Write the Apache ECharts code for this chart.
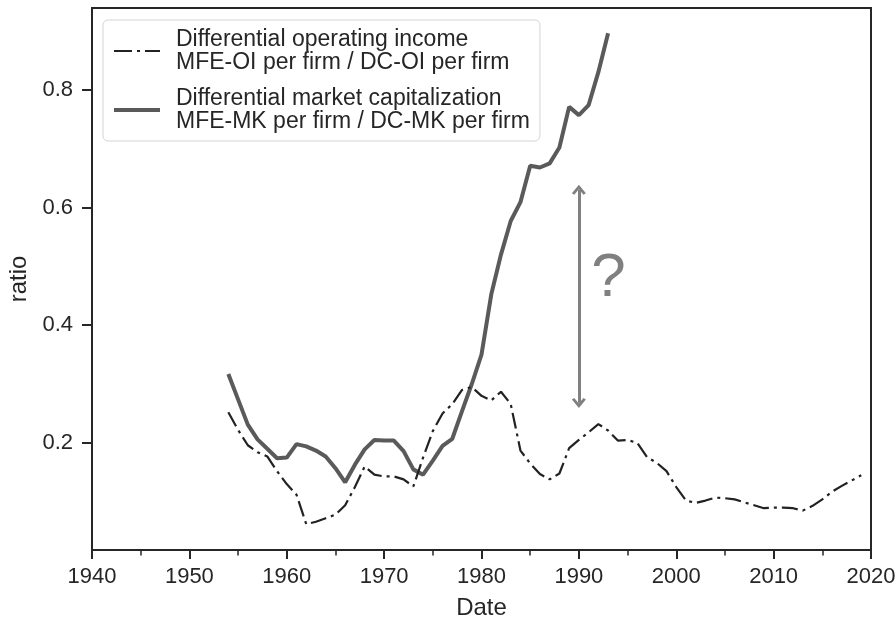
<!DOCTYPE html>
<html>
<head>
<meta charset="utf-8">
<script src="https://cdn.jsdelivr.net/npm/echarts@6/dist/echarts.min.js"></script>
<style>
  html, body { margin: 0; padding: 0; background: #fff; }
  #chart { width: 896px; height: 618px; }
</style>
</head>
<body>
<div id="chart"></div>
<script>
// data
var oiYears = [1954, 1955, 1956, 1957, 1958, 1959, 1960, 1961, 1962, 1963,
  1964, 1965, 1966, 1967, 1968, 1969, 1970, 1971, 1972, 1973,
  1974, 1975, 1976, 1977, 1978, 1979, 1980, 1981, 1982, 1983,
  1984, 1985, 1986, 1987, 1988, 1989, 1990, 1991, 1992, 1993,
  1994, 1995, 1996, 1997, 1998, 1999, 2000, 2001, 2002, 2003,
  2004, 2005, 2006, 2007, 2008, 2009, 2010, 2011, 2012, 2013,
  2014, 2015, 2016, 2017, 2018, 2019];
var oiValues = [0.252, 0.222, 0.196, 0.184, 0.177, 0.152, 0.130, 0.112, 0.062, 0.066,
  0.072, 0.078, 0.094, 0.125, 0.160, 0.146, 0.143, 0.143, 0.138, 0.126,
  0.175, 0.220, 0.250, 0.266, 0.290, 0.295, 0.280, 0.272, 0.287, 0.266,
  0.187, 0.165, 0.147, 0.138, 0.148, 0.191, 0.205, 0.218, 0.232, 0.221,
  0.204, 0.205, 0.200, 0.176, 0.166, 0.152, 0.125, 0.102, 0.098, 0.102,
  0.107, 0.106, 0.104, 0.099, 0.094, 0.089, 0.090, 0.090, 0.089, 0.085,
  0.093, 0.104, 0.117, 0.127, 0.136, 0.145];

var mkYears = [1954, 1955, 1956, 1957, 1958, 1959, 1960, 1961, 1962, 1963,
  1964, 1965, 1966, 1967, 1968, 1969, 1970, 1971, 1972, 1973,
  1974, 1975, 1976, 1977, 1978, 1979, 1980, 1981, 1982, 1983,
  1984, 1985, 1986, 1987, 1988, 1989, 1990, 1991, 1992, 1993];
var mkValues = [0.317, 0.274, 0.231, 0.206, 0.190, 0.174, 0.175, 0.198, 0.194, 0.187,
  0.177, 0.157, 0.133, 0.163, 0.189, 0.205, 0.204, 0.204, 0.186, 0.155,
  0.146, 0.170, 0.195, 0.207, 0.254, 0.300, 0.350, 0.452, 0.520, 0.577,
  0.609, 0.671, 0.668, 0.675, 0.702, 0.771, 0.757, 0.774, 0.830, 0.896];

var yTicks = [0.2, 0.4, 0.6, 0.8];
var oiName = 'Differential operating income\nMFE-OI per firm / DC-OI per firm';
var mkName = 'Differential market capitalization\nMFE-MK per firm / DC-MK per firm';

// the "?" gap arrow at 1990
var arrowYear = 1990;
var arrowFrom = 0.268;
var arrowTo = 0.630;

function pairs(xs, ys) {
  return xs.map(function (x, i) { return [x, ys[i]]; });
}

var font = "'Liberation Sans', Arial, sans-serif";
var ink = '#262626';
var chevron = 'path://M0,9 L7,0 L14,9 L11.6,10.6 L7,4.6 L2.4,10.6 Z';

var myChart = echarts.init(document.getElementById('chart'));

var option = {
  backgroundColor: '#fff',
  animation: false,
  textStyle: { fontFamily: font },
  grid: {
    left: 92, right: 25, top: 8, bottom: 68,
    containLabel: false,
    outerBoundsMode: 'none',
    show: true, borderColor: ink, borderWidth: 2, backgroundColor: 'transparent'
  },
  legend: {
    orient: 'vertical',
    left: 103, top: 20,
    padding: [8, 10, 8, 9],
    itemGap: 13,
    itemWidth: 46,
    itemHeight: 14,
    backgroundColor: '#fff',
    borderColor: '#d4d4d4',
    borderWidth: 1,
    borderRadius: 5,
    textStyle: { fontFamily: font, fontSize: 23, lineHeight: 23, color: ink, padding: [0, 0, 0, 11] },
    data: [
      { name: oiName, itemStyle: { opacity: 0 }, lineStyle: { width: 2.2, type: [18, 5, 3, 5], color: '#222' } },
      { name: mkName, itemStyle: { opacity: 0 }, lineStyle: { width: 4, type: 'solid', color: '#5a5a5a' } }
    ]
  },
  xAxis: {
    type: 'value',
    min: 1940, max: 2020, interval: 10,
    name: 'Date', nameLocation: 'middle', nameGap: 46,
    nameTextStyle: { fontSize: 24, color: ink, fontFamily: font },
    axisLine: { show: false },
    axisTick: { show: true, inside: false, length: 9, lineStyle: { color: ink, width: 2 } },
    minorTick: { show: true, splitNumber: 2, length: 5.5, lineStyle: { color: ink, width: 1.5 } },
    axisLabel: { fontSize: 22, color: ink, margin: 16, formatter: function (v) { return String(v); } },
    splitLine: { show: false }
  },
  yAxis: {
    type: 'value',
    min: 0.018, max: 0.939,
    name: 'ratio', nameLocation: 'middle', nameGap: 54, nameRotate: 90,
    nameTextStyle: { fontSize: 24, color: ink, fontFamily: font },
    axisLine: { show: false },
    axisTick: { show: true, length: 10, customValues: yTicks, lineStyle: { color: ink, width: 2 } },
    axisLabel: {
      fontSize: 22, color: ink, margin: 19, customValues: yTicks,
      formatter: function (v) { return v.toFixed(1); }
    },
    splitLine: { show: false }
  },
  series: [
    {
      name: oiName,
      type: 'line',
      data: pairs(oiYears, oiValues),
      showSymbol: false, symbol: 'none',
      lineStyle: { color: '#222', width: 2.2, type: [16, 5, 3, 5] },
      itemStyle: { color: '#222' },
      z: 3
    },
    {
      name: mkName,
      type: 'line',
      data: pairs(mkYears, mkValues),
      showSymbol: false, symbol: 'none',
      lineStyle: { color: '#5a5a5a', width: 4 },
      itemStyle: { color: '#5a5a5a' },
      z: 2,
      markLine: {
        silent: true,
        symbol: [chevron, chevron],
        symbolSize: [14, 10],
        label: { show: false },
        lineStyle: { color: '#808080', width: 3, type: 'solid' },
        itemStyle: { color: '#808080' },
        emphasis: { disabled: true },
        data: [[{ coord: [arrowYear, arrowFrom] }, { coord: [arrowYear, arrowTo] }]]
      },
      markPoint: {
        silent: true,
        symbol: 'circle',
        symbolSize: 0,
        label: {
          show: true, position: 'inside', formatter: '?',
          fontSize: 62, color: '#808080', fontFamily: font
        },
        data: [{ coord: [1993.05, 0.478] }]
      }
    }
  ]
};

myChart.setOption(option);
</script>
</body>
</html>
